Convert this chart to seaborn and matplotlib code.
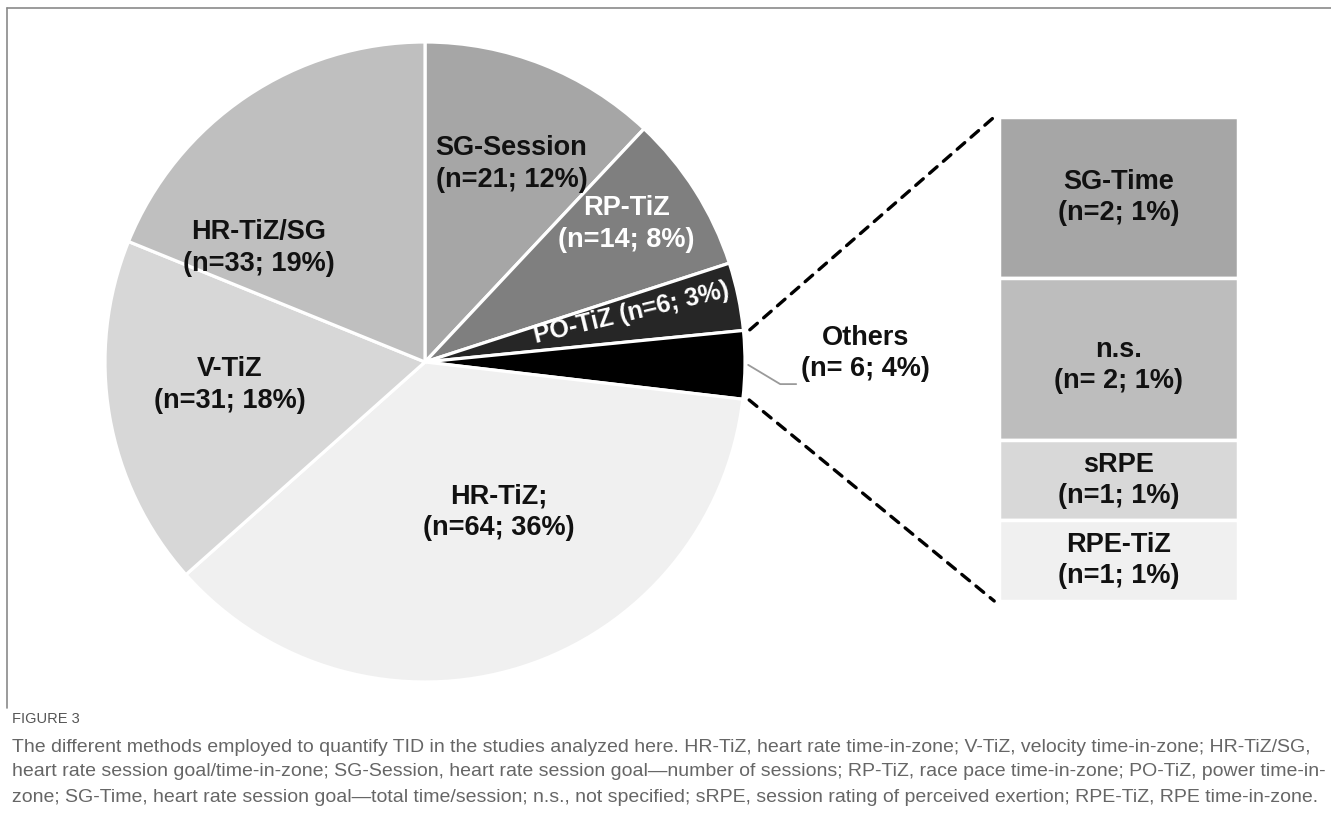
import matplotlib
matplotlib.use("Agg")
import matplotlib.pyplot as plt
from matplotlib import font_manager as fm
from matplotlib.patches import ConnectionPatch
from matplotlib.lines import Line2D
import numpy as np
import seaborn as sns

# ---------------- data ----------------
pie_labels = ["SG-Session", "RP-TiZ", "PO-TiZ", "Others", "HR-TiZ;", "V-TiZ", "HR-TiZ/SG"]
pie_counts = [21, 14, 6, 6, 64, 31, 33]
pie_pcts = [12, 8, 3, 4, 36, 18, 19]
pie_colors = ["#a6a6a6", "#7f7f7f", "#262626", "#000000", "#f0f0f0", "#d7d7d7", "#bfbfbf"]

other_labels = ["SG-Time", "n.s.", "sRPE", "RPE-TiZ"]
other_counts = [2, 2, 1, 1]
other_pcts = [1, 1, 1, 1]
other_colors = ["#a6a6a6", "#bdbdbd", "#d8d8d8", "#f0f0f0"]

caption_title = "FIGURE 3"
caption_lines = [
    "The different methods employed to quantify TID in the studies analyzed here. HR-TiZ, heart rate time-in-zone; V-TiZ, velocity time-in-zone; HR-TiZ/SG,",
    "heart rate session goal/time-in-zone; SG-Session, heart rate session goal\u2014number of sessions; RP-TiZ, race pace time-in-zone; PO-TiZ, power time-in-",
    "zone; SG-Time, heart rate session goal\u2014total time/session; n.s., not specified; sRPE, session rating of perceived exertion; RPE-TiZ, RPE time-in-zone.",
]

# ---------------- style ----------------
sns.set_theme(style="white")


def has_font(name):
    try:
        fm.findfont(fm.FontProperties(family=name), fallback_to_default=False)
        return True
    except Exception:
        return False


narrow = "Liberation Sans Narrow" if has_font("Liberation Sans Narrow") else "Liberation Sans"
plt.rcParams["font.family"] = ["Liberation Sans", "DejaVu Sans"]

W, H = 1331, 816
fig = plt.figure(figsize=(W / 100, H / 100), dpi=100)
fig.patch.set_facecolor("white")


def fx(px):
    return px / W


def fy(py):
    return 1 - py / H


# frame lines of the figure box
border = "#8a8a8a"
fig.add_artist(Line2D([fx(7), fx(7)], [fy(8), fy(708)], color=border, lw=1.2))
fig.add_artist(Line2D([fx(7), 1.0], [fy(8), fy(8)], color=border, lw=1.2))

# ---------------- pie ----------------
cx, cy, R = 425, 362, 320
ax = fig.add_axes([fx(cx - R), fy(cy + R), 2 * R / W, 2 * R / H])
wedges, _ = ax.pie(
    pie_counts,
    colors=pie_colors,
    startangle=90,
    counterclock=False,
    radius=1.0,
    wedgeprops=dict(edgecolor="white", linewidth=2.3),
)
ax.set_xlim(-1, 1)
ax.set_ylim(-1, 1)
ax.set_aspect("auto")
ax.axis("off")
for w in wedges:
    w.set_clip_on(False)

big = 23 if narrow != "Liberation Sans" else 19.5
label_pos = {
    "SG-Session": (0.27, 0.62),
    "RP-TiZ": (0.63, 0.43),
    "HR-TiZ/SG": (-0.52, 0.355),
    "V-TiZ": (-0.61, -0.072),
    "HR-TiZ;": (0.23, -0.47),
}
white_text = {"RP-TiZ", "PO-TiZ"}
for lab, n, p in zip(pie_labels, pie_counts, pie_pcts):
    if lab in label_pos:
        x, y = label_pos[lab]
        ax.text(x, y, f"{lab}\n(n={n}; {p}%)", ha="center", va="center",
                fontsize=big, family=[narrow, "DejaVu Sans"], fontweight="bold",
                color="white" if lab in white_text else "#111111", linespacing=1.3)

# PO-TiZ rotated label
po = pie_labels.index("PO-TiZ")
ax.text(0.645, 0.152, f"PO-TiZ (n={pie_counts[po]}; {pie_pcts[po]}%)", ha="center",
        va="center", rotation=13.5, rotation_mode="anchor", fontsize=big - 1.5,
        family=[narrow, "DejaVu Sans"], fontweight="bold", color="white")

# Others label with leader line
oi = pie_labels.index("Others")
ow = wedges[oi]
mid = np.deg2rad((ow.theta1 + ow.theta2) / 2)
x0, y0 = 1.01 * np.cos(mid), 1.01 * np.sin(mid)
ax.add_line(Line2D([x0, x0 + 0.1, x0 + 0.15], [y0, y0 - 0.06, y0 - 0.06],
                   color="#9a9a9a", lw=1.3, clip_on=False))
ax.text(x0 + 0.165, y0 + 0.035, f"Others\n(n= {pie_counts[oi]}; {pie_pcts[oi]}%)",
        ha="left", va="center", fontsize=19.5, fontweight="bold", color="#111111",
        linespacing=1.25, multialignment="center", clip_on=False)

# ---------------- stacked bar of "Others" ----------------
bx0, bx1, by0, by1 = 999, 1238, 117, 601
axb = fig.add_axes([fx(bx0), fy(by1), (bx1 - bx0) / W, (by1 - by0) / H])
total = sum(other_counts)
bottom = total
for lab, n, p, c in zip(other_labels, other_counts, other_pcts, other_colors):
    bottom -= n
    axb.bar(0, n, bottom=bottom, width=1.0, color=c, edgecolor="white", linewidth=2.5)
    sep = " " if lab == "n.s." else ""
    ty = bottom + n / 2 - (0.08 if lab == "n.s." else 0)
    axb.text(0, ty, f"{lab}\n(n={sep}{n}; {p}%)", ha="center", va="center",
             fontsize=19.5, fontweight="bold", color="#111111", linespacing=1.25)
axb.set_xlim(-0.5, 0.5)
axb.set_ylim(0, total)
axb.axis("off")

# dashed connectors
t_top = np.deg2rad(ow.theta2)
t_bot = np.deg2rad(ow.theta1)
for ang, yb in [(t_top, total), (t_bot, 0)]:
    con = ConnectionPatch(xyA=(1.02 * np.cos(ang), 1.02 * np.sin(ang)), coordsA=ax.transData,
                          xyB=(-0.52, yb), coordsB=axb.transData,
                          color="black", lw=2.4, linestyle=(0, (3, 2.5)))
    fig.add_artist(con)

# ---------------- caption ----------------
cap_font = [narrow, "DejaVu Sans"]
fig.text(fx(12), fy(719), caption_title, ha="left", va="center", fontsize=10.5,
         color="#555555", family=cap_font)
for i, line in enumerate(caption_lines):
    fig.text(fx(12), fy(747 + 25 * i), line, ha="left", va="center",
             fontsize=14, color="#666666", family=cap_font)

fig.savefig("out.png", dpi=100, facecolor="white")
